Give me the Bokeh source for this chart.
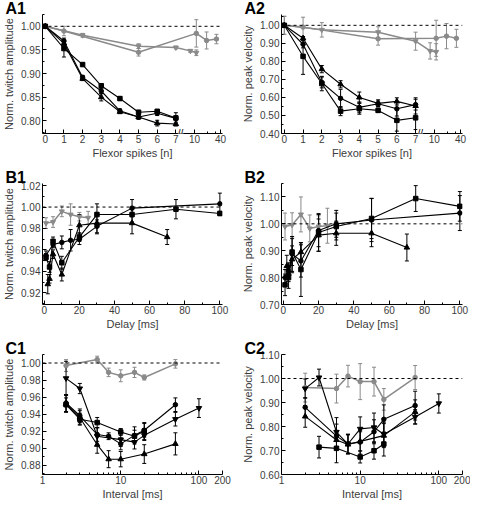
import math
from bokeh.plotting import figure
from bokeh.models import (ColumnDataSource, Whisker, TeeHead, Span, Label, Title,
                          FixedTicker, NumeralTickFormatter, Range1d)
from bokeh.layouts import row, column
from bokeh.embed import file_html
from bokeh.resources import INLINE

# ---------------- data ----------------
# Panel A: flexor spikes (x beyond 7 lie on the broken, log segment 10..40)
A_X = [0, 1, 2, 3, 4, 5, 6, 7]
A_G1_X = [0, 1, 5, 11, 19, 32]
A_G2_X = [0, 2, 5, 7, 8, 11]
A_TICKS = [0, 1, 2, 3, 4, 5, 6, 7, 10, 40]
A_MINOR = [20, 30]

A1_SQ = [1.000, 0.953, 0.919, 0.874, 0.847, 0.818, 0.820, 0.806]
A1_SQ_ERR = [0.002, 0.018, 0.003, 0.004, 0.004, 0.004, 0.003, 0.004]
A1_CI = [1.000, 0.969, 0.892, 0.863, 0.821, 0.808, 0.816, 0.805]
A1_CI_ERR = [0.002, 0.006, 0.004, 0.006, 0.004, 0.005, 0.005, 0.012]
A1_TR = [1.000, 0.964, 0.889, 0.850, 0.819, 0.808, 0.795, 0.793]
A1_TR_ERR = [0.002, 0.005, 0.004, 0.008, 0.004, 0.004, 0.006, 0.004]
A1_G1 = [1.000, 0.990, 0.945, 0.985, 0.970, 0.973]
A1_G1_ERR = [0.002, 0.010, 0.008, 0.029, 0.018, 0.010]
A1_G2 = [1.000, 0.981, 0.958, 0.955, 0.948, 0.944]
A1_G2_ERR = [0.002, 0.004, 0.005, 0.003, 0.003, 0.006]

A2_SQ = [1.000, 0.828, 0.677, 0.524, 0.537, 0.528, 0.473, 0.487]
A2_SQ_ERR = [0.005, 0.100, 0.040, 0.025, 0.030, 0.010, 0.060, 0.065]
A2_CI = [1.000, 0.895, 0.683, 0.595, 0.545, 0.565, 0.537, 0.560]
A2_CI_ERR = [0.005, 0.020, 0.030, 0.050, 0.030, 0.015, 0.040, 0.030]
A2_TR = [1.000, 0.928, 0.757, 0.673, 0.600, 0.567, 0.578, 0.553]
A2_TR_ERR = [0.005, 0.010, 0.020, 0.020, 0.030, 0.020, 0.020, 0.045]
A2_G1 = [1.000, 0.990, 0.925, 0.928, 0.940, 0.928]
A2_G1_ERR = [0.050, 0.055, 0.035, 0.100, 0.070, 0.050]
A2_G2 = [1.000, 0.975, 0.962, 0.912, 0.858, 0.853]
A2_G2_ERR = [0.050, 0.040, 0.030, 0.050, 0.045, 0.045]

# Panel B: delay [ms]
B1_SQ_X = [1, 3, 5, 10, 20, 30, 50, 75, 100]
B1_SQ = [0.953, 0.944, 0.968, 0.948, 0.972, 0.993, 0.993, 0.998, 0.994]
B1_SQ_ERR = [0.003, 0.005, 0.004, 0.006, 0.004, 0.010, 0.007, 0.009, 0.002]
B1_TR_X = [2, 3, 5, 10, 20, 30, 50, 70]
B1_TR = [0.928, 0.933, 0.956, 0.937, 0.983, 0.985, 0.985, 0.972]
B1_TR_ERR = [0.009, 0.004, 0.004, 0.006, 0.010, 0.010, 0.010, 0.007]
B1_CI_X = [1, 5, 10, 15, 20, 30, 50, 100]
B1_CI = [0.955, 0.965, 0.967, 0.969, 0.970, 0.982, 0.999, 1.003]
B1_CI_ERR = [0.004, 0.003, 0.006, 0.010, 0.005, 0.006, 0.008, 0.010]
B1_GR_X = [1, 5, 10, 15, 20, 25]
B1_GR = [0.985, 0.986, 0.996, 0.993, 0.991, 0.990]
B1_GR_ERR = [0.005, 0.005, 0.005, 0.010, 0.004, 0.006]

B2_SQ_X = [1, 3, 5, 10, 20, 30, 50, 75, 100]
B2_SQ = [0.773, 0.800, 0.895, 0.830, 0.968, 0.990, 1.020, 1.094, 1.065]
B2_SQ_ERR = [0.040, 0.040, 0.050, 0.100, 0.070, 0.050, 0.075, 0.048, 0.055]
B2_TR_X = [2, 3, 5, 10, 20, 30, 50, 70]
B2_TR = [0.843, 0.815, 0.868, 0.895, 0.958, 0.965, 0.965, 0.912]
B2_TR_ERR = [0.040, 0.030, 0.050, 0.035, 0.060, 0.045, 0.050, 0.050]
B2_CI_X = [1, 3, 5, 10, 20, 30, 50, 100]
B2_CI = [0.800, 0.825, 0.888, 0.862, 0.975, 1.000, 1.014, 1.040]
B2_CI_ERR = [0.030, 0.030, 0.065, 0.060, 0.060, 0.050, 0.080, 0.065]
B2_GR_X = [1, 5, 10, 15, 20, 25]
B2_GR = [0.990, 0.996, 1.035, 0.983, 0.990, 0.993]
B2_GR_ERR = [0.050, 0.045, 0.065, 0.050, 0.040, 0.065]

# Panel C: interval [ms]
C1_TR_X = [2, 3, 5, 7, 10, 20, 50]
C1_TR = [0.952, 0.936, 0.904, 0.887, 0.887, 0.893, 0.905]
C1_TR_ERR = [0.010, 0.008, 0.010, 0.010, 0.009, 0.011, 0.013]
C1_SQ_X = [2, 3, 5, 10, 15, 20]
C1_SQ = [0.951, 0.934, 0.930, 0.919, 0.914, 0.920]
C1_SQ_ERR = [0.008, 0.007, 0.006, 0.004, 0.007, 0.010]
C1_CI_X = [2, 3, 5, 7, 10, 15, 20, 50]
C1_CI = [0.953, 0.938, 0.916, 0.914, 0.905, 0.915, 0.921, 0.951]
C1_CI_ERR = [0.010, 0.008, 0.008, 0.004, 0.007, 0.010, 0.008, 0.008]
C1_TD_X = [2, 3, 5, 10, 15, 20, 50, 100]
C1_TD = [0.982, 0.970, 0.914, 0.910, 0.907, 0.915, 0.934, 0.947]
C1_TD_ERR = [0.020, 0.006, 0.010, 0.008, 0.008, 0.006, 0.008, 0.011]
C1_GR_X = [2, 5, 7, 10, 15, 20, 50]
C1_GR = [0.997, 1.004, 0.989, 0.985, 0.989, 0.983, 0.999]
C1_GR_ERR = [0.007, 0.004, 0.005, 0.007, 0.006, 0.003, 0.005]

C2_TD_X = [2, 3, 5, 7, 10, 15, 20, 50, 100]
C2_TD = [0.958, 1.004, 0.777, 0.727, 0.790, 0.796, 0.768, 0.840, 0.896]
C2_TD_ERR = [0.040, 0.035, 0.060, 0.040, 0.050, 0.060, 0.050, 0.030, 0.040]
C2_CI_X = [2, 5, 7, 10, 15, 20, 50]
C2_CI = [0.880, 0.760, 0.728, 0.735, 0.778, 0.830, 0.887]
C2_CI_ERR = [0.040, 0.050, 0.040, 0.050, 0.050, 0.060, 0.060]
C2_TR_X = [2, 5, 7, 10, 20, 50]
C2_TR = [0.842, 0.744, 0.725, 0.738, 0.762, 0.861]
C2_TR_ERR = [0.045, 0.040, 0.040, 0.040, 0.050, 0.050]
C2_SQ_X = [3, 5, 10, 15, 20]
C2_SQ = [0.714, 0.709, 0.673, 0.699, 0.727]
C2_SQ_ERR = [0.045, 0.060, 0.025, 0.035, 0.050]
C2_GR_X = [2, 5, 7, 10, 15, 20, 50]
C2_GR = [0.962, 0.958, 1.010, 0.987, 0.987, 0.913, 1.004]
C2_GR_ERR = [0.060, 0.060, 0.045, 0.075, 0.060, 0.045, 0.050]

# ---------------- styling ----------------
FONT = "Liberation Sans"
TXT = "#3c3c3c"
BLK = "#000000"
GRY = "#8a8a8a"


def a_pos(n):
    """Broken spikes axis: 10 units per spike up to 7, log segment 10..40 after the break."""
    if n <= 7:
        return 10.0 * n
    return 80.0 + 14.0 * math.log10(n / 10.0) / math.log10(4.0)


def steps(a, b, s):
    out, v = [], a
    while v <= b + 1e-9:
        out.append(round(v, 4))
        v += s
    return out


def make_fig(w, h, xr, yr, left, right, top, bottom, xlabel, ylabel, tag, xtype="linear"):
    p = figure(width=w, height=h, x_range=Range1d(*xr), y_range=Range1d(*yr),
               x_axis_type=xtype, output_backend="svg", toolbar_location=None,
               min_border_left=left, min_border_right=right,
               min_border_top=top, min_border_bottom=bottom)
    p.title = Title(text=tag, align="left", offset=-left, standoff=-5,
                    text_font=FONT, text_font_size="16px", text_font_style="bold",
                    text_color=BLK)
    p.outline_line_color = None
    p.xgrid.visible = False
    p.ygrid.visible = False
    for ax in (p.xaxis[0], p.yaxis[0]):
        ax.major_tick_in = 4
        ax.major_tick_out = 0
        ax.minor_tick_in = 2
        ax.minor_tick_out = 0
        ax.axis_line_color = BLK
        ax.major_tick_line_color = BLK
        ax.minor_tick_line_color = BLK
        ax.major_label_text_font = FONT
        ax.major_label_text_font_size = "10px"
        ax.major_label_text_color = TXT
        ax.axis_label_text_font = FONT
        ax.axis_label_text_font_size = "11px"
        ax.axis_label_text_font_style = "normal"
        ax.axis_label_text_color = TXT
    p.xaxis[0].major_label_standoff = 1
    p.xaxis[0].axis_label_standoff = 1
    p.yaxis[0].major_label_standoff = 2
    p.yaxis[0].axis_label_standoff = 3
    p.xaxis[0].axis_label = xlabel
    p.yaxis[0].axis_label = ylabel
    p.yaxis[0].formatter = NumeralTickFormatter(format="0.00")
    p.add_layout(Span(location=1.0, dimension="width", line_color=BLK,
                      line_dash="3 3", line_width=1))
    return p


def set_yticks(p, lo, hi, step):
    major = steps(lo, hi, step)
    minor = [round(v + step / 2, 4) for v in major] + [round(lo - step / 2, 4)]
    p.yaxis[0].ticker = FixedTicker(ticks=major, minor_ticks=minor)


def add_series(p, xs, ys, errs, color, marker, size, lw):
    src = ColumnDataSource(dict(x=xs, y=ys,
                                lo=[y - e for y, e in zip(ys, errs)],
                                hi=[y + e for y, e in zip(ys, errs)]))
    p.add_layout(Whisker(source=src, base="x", lower="lo", upper="hi",
                         line_color=color, line_width=1,
                         lower_head=TeeHead(size=4, line_color=color, line_width=1),
                         upper_head=TeeHead(size=4, line_color=color, line_width=1)))
    p.line("x", "y", source=src, line_color=color, line_width=lw)
    p.scatter("x", "y", source=src, marker=marker, size=size,
              fill_color=color, line_color=color)


# layout geometry
W1, W2 = 239, 231
L1, R1, L2, R2 = 37, 17, 37, 8
H1, H2, H3 = 169, 171, 162
TOP, BOT12, BOT3 = 3, 36, 24

# ---------------- Panel A ----------------
A_XR = (-1.5, 95)


def a_axis(p, yr):
    ticks = [round(a_pos(t), 4) for t in A_TICKS]
    p.xaxis[0].ticker = FixedTicker(ticks=ticks,
                                    minor_ticks=[round(a_pos(t), 4) for t in A_MINOR])
    p.xaxis[0].major_label_overrides = {tk: str(t) for tk, t in zip(ticks, A_TICKS)}
    brk = (a_pos(7) + a_pos(10)) / 2 - 2.5
    p.add_layout(Label(x=brk, y=yr[0], text="//", text_font=FONT, text_font_size="10px",
                       text_align="center", text_baseline="middle", text_color=BLK,
                       background_fill_color="white"))


ax_pos = [a_pos(n) for n in A_X]
g1_pos = [a_pos(n) for n in A_G1_X]
g2_pos = [a_pos(n) for n in A_G2_X]

A1_YR = (0.773, 1.025)
a1 = make_fig(W1, H1, A_XR, A1_YR, L1, R1, TOP, BOT12,
              "Flexor spikes [n]", "Norm. twitch amplitude", "A1")
set_yticks(a1, 0.80, 1.00, 0.05)
a_axis(a1, A1_YR)
add_series(a1, g1_pos, A1_G1, A1_G1_ERR, GRY, "circle", 4.5, 1.5)
add_series(a1, g2_pos, A1_G2, A1_G2_ERR, GRY, "inverted_triangle", 5, 1.5)
add_series(a1, ax_pos, A1_SQ, A1_SQ_ERR, BLK, "square", 4.5, 1.1)
add_series(a1, ax_pos, A1_CI, A1_CI_ERR, BLK, "circle", 4.5, 1.1)
add_series(a1, ax_pos, A1_TR, A1_TR_ERR, BLK, "triangle", 5.5, 1.1)

A2_YR = (0.40, 1.06)
a2 = make_fig(W2, H1, A_XR, A2_YR, L2, R2, TOP, BOT12,
              "Flexor spikes [n]", "Norm. peak velocity", "A2")
set_yticks(a2, 0.40, 1.00, 0.10)
a_axis(a2, A2_YR)
add_series(a2, g1_pos, A2_G1, A2_G1_ERR, GRY, "circle", 4.5, 1.5)
add_series(a2, g2_pos, A2_G2, A2_G2_ERR, GRY, "inverted_triangle", 5, 1.5)
add_series(a2, ax_pos, A2_SQ, A2_SQ_ERR, BLK, "square", 4.5, 1.1)
add_series(a2, ax_pos, A2_CI, A2_CI_ERR, BLK, "circle", 4.5, 1.1)
add_series(a2, ax_pos, A2_TR, A2_TR_ERR, BLK, "triangle", 5.5, 1.1)

# ---------------- Panel B ----------------
B_XR = (-1, 101.5)


def b_axis(p):
    p.xaxis[0].ticker = FixedTicker(ticks=[0, 20, 40, 60, 80, 100],
                                    minor_ticks=[10, 30, 50, 70, 90])
    p.xaxis[0].formatter = NumeralTickFormatter(format="0")


B1_YR = (0.909, 1.022)
b1 = make_fig(W1, H2, B_XR, B1_YR, L1, R1, TOP, BOT12,
              "Delay [ms]", "Norm. twitch amplitude", "B1")
set_yticks(b1, 0.92, 1.02, 0.02)
b_axis(b1)
add_series(b1, B1_GR_X, B1_GR, B1_GR_ERR, GRY, "inverted_triangle", 5, 1.5)
add_series(b1, B1_SQ_X, B1_SQ, B1_SQ_ERR, BLK, "square", 4.5, 1.1)
add_series(b1, B1_TR_X, B1_TR, B1_TR_ERR, BLK, "triangle", 5.5, 1.1)
add_series(b1, B1_CI_X, B1_CI, B1_CI_ERR, BLK, "circle", 4.5, 1.1)

B2_YR = (0.70, 1.15)
b2 = make_fig(W2, H2, B_XR, B2_YR, L2, R2, TOP, BOT12,
              "Delay [ms]", "Norm. peak velocity", "B2")
set_yticks(b2, 0.70, 1.10, 0.10)
b_axis(b2)
add_series(b2, B2_GR_X, B2_GR, B2_GR_ERR, GRY, "inverted_triangle", 5, 1.5)
add_series(b2, B2_SQ_X, B2_SQ, B2_SQ_ERR, BLK, "square", 4.5, 1.1)
add_series(b2, B2_TR_X, B2_TR, B2_TR_ERR, BLK, "triangle", 5.5, 1.1)
add_series(b2, B2_CI_X, B2_CI, B2_CI_ERR, BLK, "circle", 4.5, 1.1)

# ---------------- Panel C ----------------
C_XR = (1, 200)


def c_axis(p):
    minor = [2, 3, 4, 5, 6, 7, 8, 9, 20, 30, 40, 50, 60, 70, 80, 90]
    p.xaxis[0].ticker = FixedTicker(ticks=[1, 10, 100, 200], minor_ticks=minor)
    p.xaxis[0].formatter = NumeralTickFormatter(format="0")


C1_YR = (0.869, 1.010)
c1 = make_fig(W1, H3, C_XR, C1_YR, L1, R1, TOP, BOT3,
              "Interval [ms]", "Norm. twitch amplitude", "C1", xtype="log")
set_yticks(c1, 0.88, 1.00, 0.02)
c_axis(c1)
add_series(c1, C1_GR_X, C1_GR, C1_GR_ERR, GRY, "circle", 4.5, 1.5)
add_series(c1, C1_TR_X, C1_TR, C1_TR_ERR, BLK, "triangle", 5.5, 1.1)
add_series(c1, C1_SQ_X, C1_SQ, C1_SQ_ERR, BLK, "square", 4.5, 1.1)
add_series(c1, C1_CI_X, C1_CI, C1_CI_ERR, BLK, "circle", 4.5, 1.1)
add_series(c1, C1_TD_X, C1_TD, C1_TD_ERR, BLK, "inverted_triangle", 5.5, 1.1)

C2_YR = (0.60, 1.10)
c2 = make_fig(W2, H3, C_XR, C2_YR, L2, R2, TOP, BOT3,
              "Interval [ms]", "Norm. peak velocity", "C2", xtype="log")
set_yticks(c2, 0.60, 1.10, 0.10)
c_axis(c2)
add_series(c2, C2_GR_X, C2_GR, C2_GR_ERR, GRY, "circle", 4.5, 1.5)
add_series(c2, C2_TR_X, C2_TR, C2_TR_ERR, BLK, "triangle", 5.5, 1.1)
add_series(c2, C2_SQ_X, C2_SQ, C2_SQ_ERR, BLK, "square", 4.5, 1.1)
add_series(c2, C2_CI_X, C2_CI, C2_CI_ERR, BLK, "circle", 4.5, 1.1)
add_series(c2, C2_TD_X, C2_TD, C2_TD_ERR, BLK, "inverted_triangle", 5.5, 1.1)

layout = column(row(a1, a2), row(b1, b2), row(c1, c2))
open("out.html", "w").write(file_html(layout, INLINE))
